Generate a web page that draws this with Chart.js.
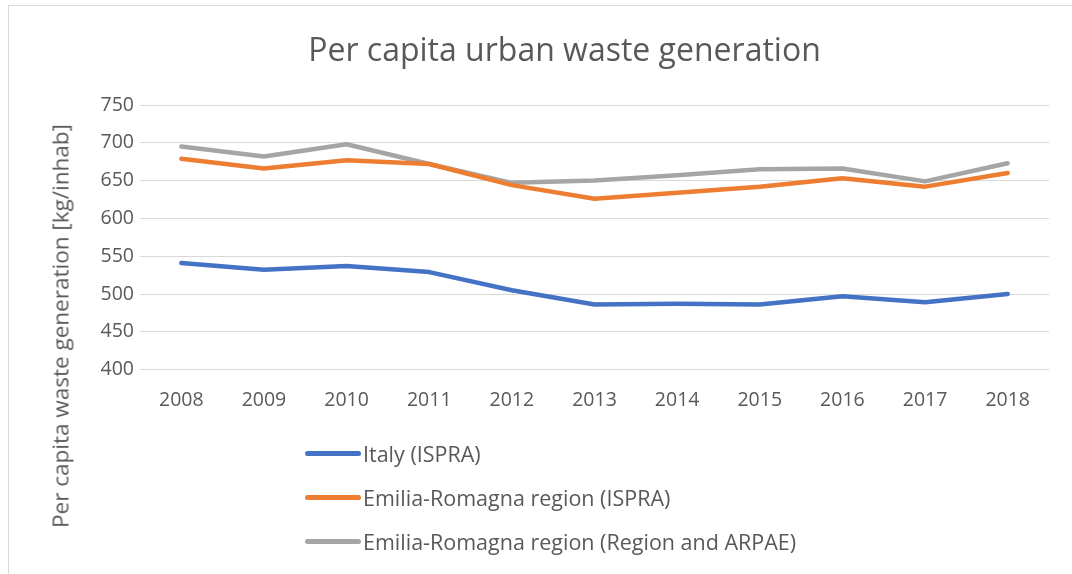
<!DOCTYPE html>
<html>
<head>
<meta charset="utf-8">
<script src="https://cdn.jsdelivr.net/npm/chart.js@4.4.1/dist/chart.umd.min.js"></script>
<style>
  html, body { margin: 0; padding: 0; background: #fff; }
  #wrap { position: relative; width: 1072px; height: 574px; overflow: hidden; font-family: "Open Sans", sans-serif; }
  #frame { position: absolute; left: 8px; top: 5px; width: 1070px; height: 575px; border: 1px solid #d9d9d9; box-sizing: border-box; }
  #c { position: absolute; left: 0; top: 0; }
  #ytitle { position: absolute; left: 60px; top: 326px; transform: translate(-50%, -50%) rotate(-90deg); white-space: nowrap; font-size: 22.5px; color: #595959; }
  #legend { position: absolute; left: 305px; top: 431px; }
  .li { display: flex; align-items: center; height: 44px; font-size: 21.5px; color: #595959; white-space: nowrap; }
  .sw { display: inline-block; width: 56px; height: 5px; border-radius: 3px; margin-right: 2px; }
</style>
</head>
<body>
<div id="wrap">
  <div id="frame"></div>
  <canvas id="c" width="1072" height="574"></canvas>
  <div id="ytitle">Per capita waste generation [kg/inhab]</div>
  <div id="legend"></div>
</div>
<script>
const years = ["2008","2009","2010","2011","2012","2013","2014","2015","2016","2017","2018"];
const italyISPRA = [541, 532, 537, 529, 505, 486, 487, 486, 497, 489, 500];
const emiliaISPRA = [679, 666, 677, 672, 644, 626, 634, 642, 653, 642, 660];
const emiliaRegionARPAE = [695, 682, 698, 672, 647, 650, 657, 665, 666, 649, 673];
const seriesNames = ["Italy (ISPRA)", "Emilia-Romagna region (ISPRA)", "Emilia-Romagna region (Region and ARPAE)"];
const seriesColors = ["#4472C4", "#ED7D31", "#A5A5A5"];
const yTicks = [400, 450, 500, 550, 600, 650, 700, 750];

const seriesData = [italyISPRA, emiliaISPRA, emiliaRegionARPAE];
const datasets = seriesData.map((d, i) => ({
  label: seriesNames[i],
  data: d,
  borderColor: seriesColors[i],
  backgroundColor: seriesColors[i],
  borderWidth: 4.5,
  pointRadius: 0,
  tension: 0,
  borderCapStyle: 'round',
  borderJoinStyle: 'round'
}));

const FONT = '"Open Sans", sans-serif';
new Chart(document.getElementById('c'), {
  type: 'line',
  data: { labels: years, datasets: datasets },
  options: {
    responsive: false,
    animation: false,
    layout: { padding: { left: 80, right: 23, top: 0, bottom: 143 } },
    plugins: {
      legend: { display: false },
      tooltip: { enabled: false },
      title: {
        display: true,
        text: 'Per capita urban waste generation',
        color: '#595959',
        font: { family: FONT, size: 32, weight: 'normal' },
        padding: { top: 33, bottom: 33.6 }
      }
    },
    scales: {
      x: {
        offset: true,
        grid: { display: false, drawTicks: false },
        border: { display: false },
        ticks: { color: '#595959', font: { family: FONT, size: 19.5 }, padding: 19 }
      },
      y: {
        min: 400, max: 750,
        afterBuildTicks: (axis) => { axis.ticks = yTicks.map(v => ({ value: v })); },
        afterFit: (axis) => { axis.width = 60; },
        grid: { color: '#d9d9d9', lineWidth: 1, drawTicks: false },
        border: { display: false },
        ticks: { color: '#595959', font: { family: FONT, size: 19.5 }, padding: 6 }
      }
    }
  }
});

const lg = document.getElementById('legend');
seriesNames.forEach((n, i) => {
  const row = document.createElement('div');
  row.className = 'li';
  const sw = document.createElement('span');
  sw.className = 'sw';
  sw.style.background = seriesColors[i];
  row.appendChild(sw);
  row.appendChild(document.createTextNode(n));
  lg.appendChild(row);
});
</script>
</body>
</html>
